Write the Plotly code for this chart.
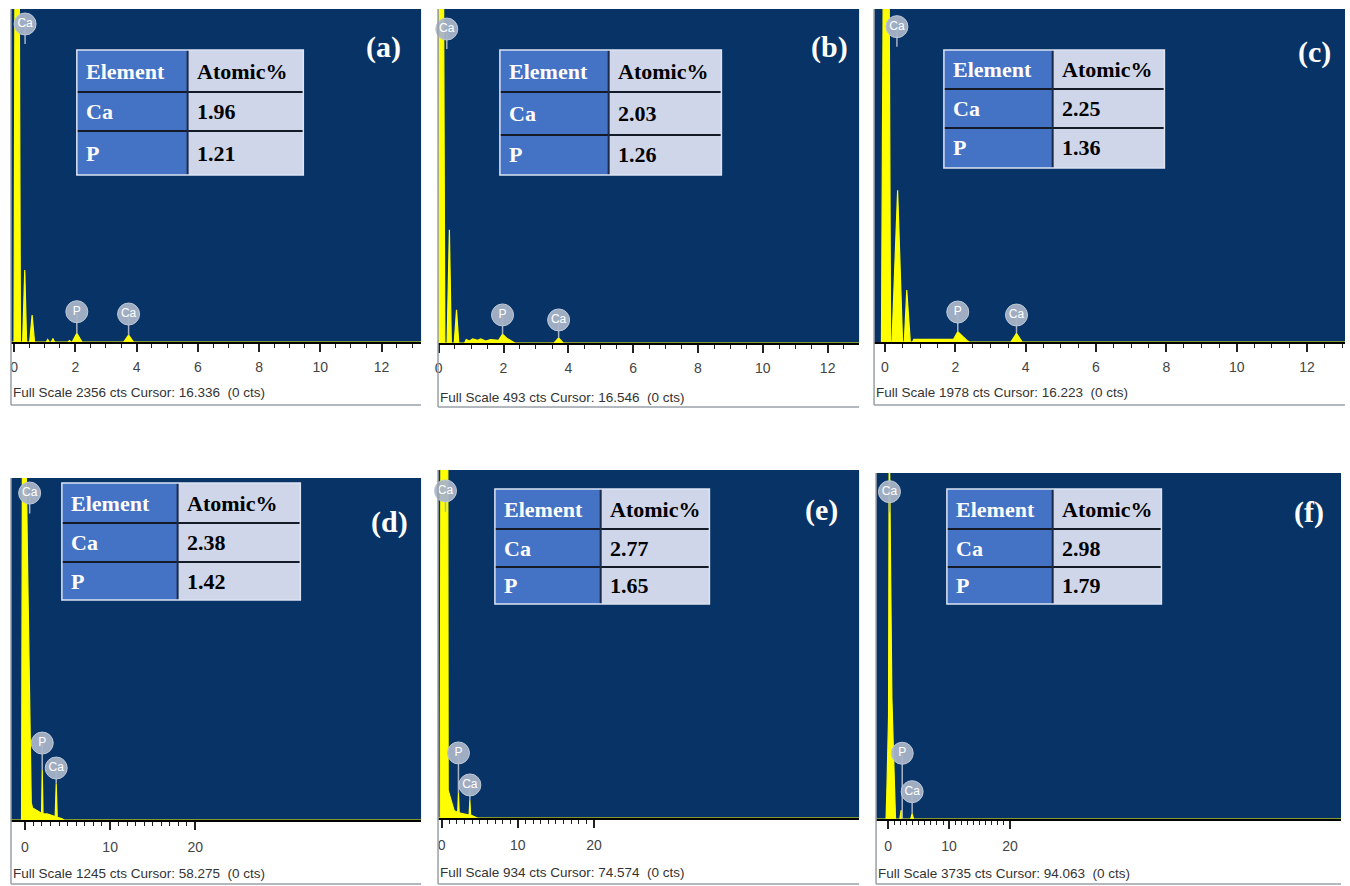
import plotly.graph_objects as go

W, H = 1350, 886

# ---------------- data ----------------
panel_labels = ["(a)", "(b)", "(c)", "(d)", "(e)", "(f)"]
table_header = ["Element", "Atomic%"]
table_elements = ["Ca", "P"]
atomic_a = ["1.96", "1.21"]
atomic_b = ["2.03", "1.26"]
atomic_c = ["2.25", "1.36"]
atomic_d = ["2.38", "1.42"]
atomic_e = ["2.77", "1.65"]
atomic_f = ["2.98", "1.79"]

full_scale = [2356, 493, 1978, 1245, 934, 3735]
cursor_kev = ["16.336", "16.546", "16.223", "58.275", "74.574", "94.063"]

# spectra: energy (keV) and counts
energy_a = [-0.1, 0.0, 0.03, 0.17, 0.21, 0.28, 0.35, 0.41, 0.51, 0.59, 0.67, 1.05, 1.10, 1.15,
            1.22, 1.27, 1.32, 1.76, 1.81, 1.86, 1.90, 2.05, 2.22, 3.58, 3.74, 3.90, 13.3]
counts_a = [0, 0, 2600, 2600, 0, 0, 509, 0, 0, 191, 0, 0, 18, 0,
            0, 24, 0, 0, 10, 0, 0, 61, 0, 0, 50, 0, 0]

energy_b = [0.0, 0.01, 0.15, 0.19, 0.26, 0.33, 0.39, 0.48, 0.55, 0.62, 0.80, 0.85, 0.95, 1.05,
            1.20, 1.30, 1.45, 1.60, 1.85, 1.97, 2.10, 2.35, 3.56, 3.70, 3.84, 13.0]
counts_b = [0, 540, 540, 0, 0, 167, 0, 0, 49, 0, 0, 5, 3, 6,
            4, 6, 3, 5, 4, 13, 7, 0, 0, 7.5, 0, 0]

energy_c = [-0.1, -0.05, 0.12, 0.16, 0.20, 0.36, 0.50, 0.55, 0.62, 0.72, 0.78, 0.82, 1.95,
            2.07, 2.34, 2.40, 3.58, 3.74, 3.90, 13.1]
counts_c = [0, 2100, 2100, 0, 0, 902, 0, 0, 309, 0, 0, 16, 16,
            61, 8, 0, 0, 52, 0, 0]

energy_d = [-1.6, -0.4, -0.3, 0.15, 0.30, 0.50, 0.74, 0.90, 1.30, 1.80, 1.95, 2.03, 2.12,
            2.60, 3.30, 3.55, 3.67, 3.79, 4.30, 4.60, 46.5]
counts_d = [0, 0, 1300, 1300, 946, 548, 62, 44, 35, 27, 25, 182, 22,
            22, 15, 12, 134, 10, 5, 0, 0]

energy_e = [-0.5, -0.2, -0.1, 0.80, 0.85, 1.20, 1.65, 2.10, 2.20, 2.30, 3.40, 3.60, 3.70,
            3.80, 4.70, 54.8]
counts_e = [0, 0, 1000, 1000, 75, 47, 19, 15, 67, 14, 10, 8, 48,
            8, 0, 0]

energy_f = [-2.0, -0.35, -0.2, 0.05, 0.15, 0.22, 0.35, 0.60, 0.85, 1.00, 1.20, 1.90, 2.13,
            2.35, 3.70, 3.93, 4.15, 74.4]
counts_f = [0, 0, 370, 1100, 3900, 3900, 2990, 1310, 750, 300, 0, 0, 97,
            0, 0, 61, 0, 0]

# element marker balloons: element, energy (keV)
marker_elements = ["Ca", "P", "Ca"]
marker_energy_a = [0.36, 2.05, 3.74]
marker_energy_b = [0.25, 1.97, 3.70]
marker_energy_c = [0.34, 2.07, 3.74]
marker_energy_d = [0.55, 2.03, 3.67]
marker_energy_e = [0.50, 2.20, 3.70]
marker_energy_f = [0.20, 2.30, 3.93]

# ---------------- layout / style ----------------
def fx(p):
    return p / W


def fy(p):
    return 1 - p / H


BLUE = "#073366"
YELLOW = "#ffff00"
SANS = "Liberation Sans, Arial, sans-serif"
TICKFONT = dict(family=SANS, size=14, color="#444444")
SERIF = "Liberation Serif, Times New Roman, serif"

panels = [
    dict(E=energy_a, C=counts_a, at=atomic_a, me=marker_energy_a,
         box=(8, 419, 9, 342), xr=(-0.1, 13.29), top=True,
         tab=(74, 301, 50, 175, 185, 92, 131), lab=(381, 47), fst=(8, 392), fb=405,
         my=[0.955, 0.091, 0.084]),
    dict(E=energy_b, C=counts_b, at=atomic_b, me=marker_energy_b,
         box=(436, 858, 9, 343), xr=(-0.02, 12.97), top=True,
         tab=(498, 720, 50, 175, 607, 92, 135), lab=(828, 47), fst=(436, 397), fb=407,
         my=[0.94, 0.084, 0.069]),
    dict(E=energy_c, C=counts_c, at=atomic_c, me=marker_energy_c,
         box=(873, 1345, 9, 342), xr=(-0.31, 13.08), top=True,
         tab=(943, 1164, 50, 168, 1052, 89, 128), lab=(1314, 52), fst=(873, 393), fb=405,
         my=[0.947, 0.09, 0.081]),
    dict(E=energy_d, C=counts_d, at=atomic_d, me=marker_energy_d,
         box=(8, 419, 478, 820), xr=(-1.64, 46.5), top=False,
         tab=(59, 298, 483, 600, 175, 523, 562), lab=(387, 522), fst=(8, 873), fb=884,
         my=[0.956, 0.225, 0.152]),
    dict(E=energy_e, C=counts_e, at=atomic_e, me=marker_energy_e,
         box=(436, 858, 470, 818), xr=(-0.48, 54.8), top=False,
         tab=(493, 708, 489, 604, 599, 529, 567), lab=(820, 510), fst=(436, 872), fb=884,
         my=[0.94, 0.187, 0.095]),
    dict(E=energy_f, C=counts_f, at=atomic_f, me=marker_energy_f,
         box=(875, 1341, 473, 819), xr=(-2.0, 74.4), top=False,
         tab=(946, 1161, 489, 604, 1052, 529, 567), lab=(1309, 512), fst=(875, 873), fb=884,
         my=[0.946, 0.19, 0.079]),
]

fig = go.Figure()
shapes = []
annotations = []
layout_axes = {}

for i, p in enumerate(panels):
    n = i + 1
    xa = "x" if n == 1 else f"x{n}"
    ya = "y" if n == 1 else f"y{n}"
    fs = full_scale[i]
    x0, x1, y0, y1 = p["box"]

    # spectrum
    fig.add_trace(go.Scatter(x=p["E"], y=p["C"], xaxis=xa, yaxis=ya, mode="lines",
                             line=dict(color=YELLOW, width=1.2), fill="tozeroy",
                             fillcolor=YELLOW, hoverinfo="skip"))

    # element balloons with pins
    for k, el in enumerate(marker_elements):
        ex = p["me"][k]
        ly = p["my"][k] * fs
        near = [c for e, c in zip(p["E"], p["C"]) if abs(e - ex) < 0.16]
        peak = max(near) if near else 0
        pin_end = min(peak, fs) if k > 0 else ly - 0.06 * fs
        fig.add_trace(go.Scatter(x=[ex, ex], y=[ly, pin_end], xaxis=xa, yaxis=ya, mode="lines",
                                 line=dict(color="#a8b3c6", width=1.5), hoverinfo="skip"))
        fig.add_trace(go.Scatter(x=[ex], y=[ly], xaxis=xa, yaxis=ya, mode="markers+text",
                                 marker=dict(size=22, color="rgba(168,180,200,0.95)",
                                             line=dict(color="rgba(190,200,215,1)", width=1)),
                                 text=[el], textposition="middle center",
                                 textfont=dict(family=SANS, size=12, color="white"),
                                 cliponaxis=False, hoverinfo="skip"))

    if p["top"]:
        tickvals = [0, 2, 4, 6, 8, 10, 12]
        minorvals = [v * 0.5 for v in range(0, 27) if v % 4 != 0]
        standoff = 3
    else:
        tickvals = [0, 10, 20]
        minorvals = [v for v in range(1, 20) if v % 10 != 0]
        standoff = 5

    key = "" if n == 1 else str(n)
    layout_axes["xaxis" + key] = dict(
        domain=[fx(x0), fx(x1)], range=list(p["xr"]), anchor=ya,
        showline=True, linecolor="black", linewidth=2, mirror=False,
        ticks="outside", ticklen=8, tickwidth=1.5, tickcolor="#222222",
        tickmode="array", tickvals=tickvals, ticktext=[str(v) for v in tickvals],
        tickfont=TICKFONT, ticklabelstandoff=standoff,
        minor=dict(ticks="outside", ticklen=4, tickwidth=1.2, tickcolor="#222222",
                   tickmode="array", tickvals=minorvals),
        showgrid=False, zeroline=False, fixedrange=True)
    layout_axes["yaxis" + key] = dict(
        domain=[fy(y1), fy(y0)], range=[0, fs], anchor=xa, visible=False,
        showgrid=False, zeroline=False, fixedrange=True)

    # gray frame lines (left + bottom)
    shapes.append(dict(type="line", xref="paper", yref="paper", x0=fx(x0), x1=fx(x0),
                       y0=fy(y0), y1=fy(p["fb"]), line=dict(color="#9aa0a8", width=1.5)))
    shapes.append(dict(type="line", xref="paper", yref="paper", x0=fx(x0), x1=fx(x1),
                       y0=fy(p["fb"]), y1=fy(p["fb"]), line=dict(color="#9aa0a8", width=1.5)))

    # full scale text
    annotations.append(dict(xref="paper", yref="paper", x=fx(p["fst"][0]), y=fy(p["fst"][1]),
                            xanchor="left", yanchor="middle", showarrow=False,
                            text=f"Full Scale {fs} cts Cursor: {cursor_kev[i]}\u00a0 (0 cts)",
                            font=dict(family=SANS, size=13.5, color="#333333")))

    # panel label
    annotations.append(dict(xref="paper", yref="paper", x=fx(p["lab"][0]), y=fy(p["lab"][1]),
                            xanchor="center", yanchor="middle", showarrow=False,
                            text=panel_labels[i],
                            font=dict(family=SERIF, size=30, color="white", weight="bold")))

    # table
    tx0, tx1, ty0, ty1, tc, r1, r2 = p["tab"]
    shapes.append(dict(type="rect", xref="paper", yref="paper", x0=fx(tx0), x1=fx(tc),
                       y0=fy(ty1), y1=fy(ty0), fillcolor="#4472c4", line=dict(width=0)))
    shapes.append(dict(type="rect", xref="paper", yref="paper", x0=fx(tc), x1=fx(tx1),
                       y0=fy(ty1), y1=fy(ty0), fillcolor="#cfd6ea", line=dict(width=0)))
    for r in (r1, r2):
        shapes.append(dict(type="line", xref="paper", yref="paper", x0=fx(tx0), x1=fx(tx1),
                           y0=fy(r), y1=fy(r), line=dict(color="#141a28", width=2)))
    shapes.append(dict(type="line", xref="paper", yref="paper", x0=fx(tc), x1=fx(tc),
                       y0=fy(ty1), y1=fy(ty0), line=dict(color="#1b2a48", width=2)))
    shapes.append(dict(type="rect", xref="paper", yref="paper", x0=fx(tx0), x1=fx(tx1),
                       y0=fy(ty1), y1=fy(ty0), line=dict(color="#dde3f3", width=1.5)))

    rows_left = [table_header[0]] + table_elements
    rows_right = [table_header[1]] + p["at"]
    row_bounds = [ty0, r1, r2, ty1]
    for j in range(3):
        yc = (row_bounds[j] + row_bounds[j + 1]) / 2
        annotations.append(dict(xref="paper", yref="paper", x=fx(tx0 + 7), y=fy(yc),
                                xanchor="left", yanchor="middle", showarrow=False,
                                text=rows_left[j],
                                font=dict(family=SERIF, size=22, color="white", weight="bold")))
        annotations.append(dict(xref="paper", yref="paper", x=fx(tc + 7), y=fy(yc),
                                xanchor="left", yanchor="middle", showarrow=False,
                                text=rows_right[j],
                                font=dict(family=SERIF, size=22, color="black", weight="bold")))

fig.update_layout(
    width=W, height=H, margin=dict(l=0, r=0, t=0, b=0),
    paper_bgcolor="white", plot_bgcolor=BLUE, showlegend=False,
    shapes=shapes, annotations=annotations, **layout_axes)

fig.write_html("out.html", config={"displayModeBar": False},
               post_script="document.body.style.margin='0px';document.body.style.overflow='hidden';")
